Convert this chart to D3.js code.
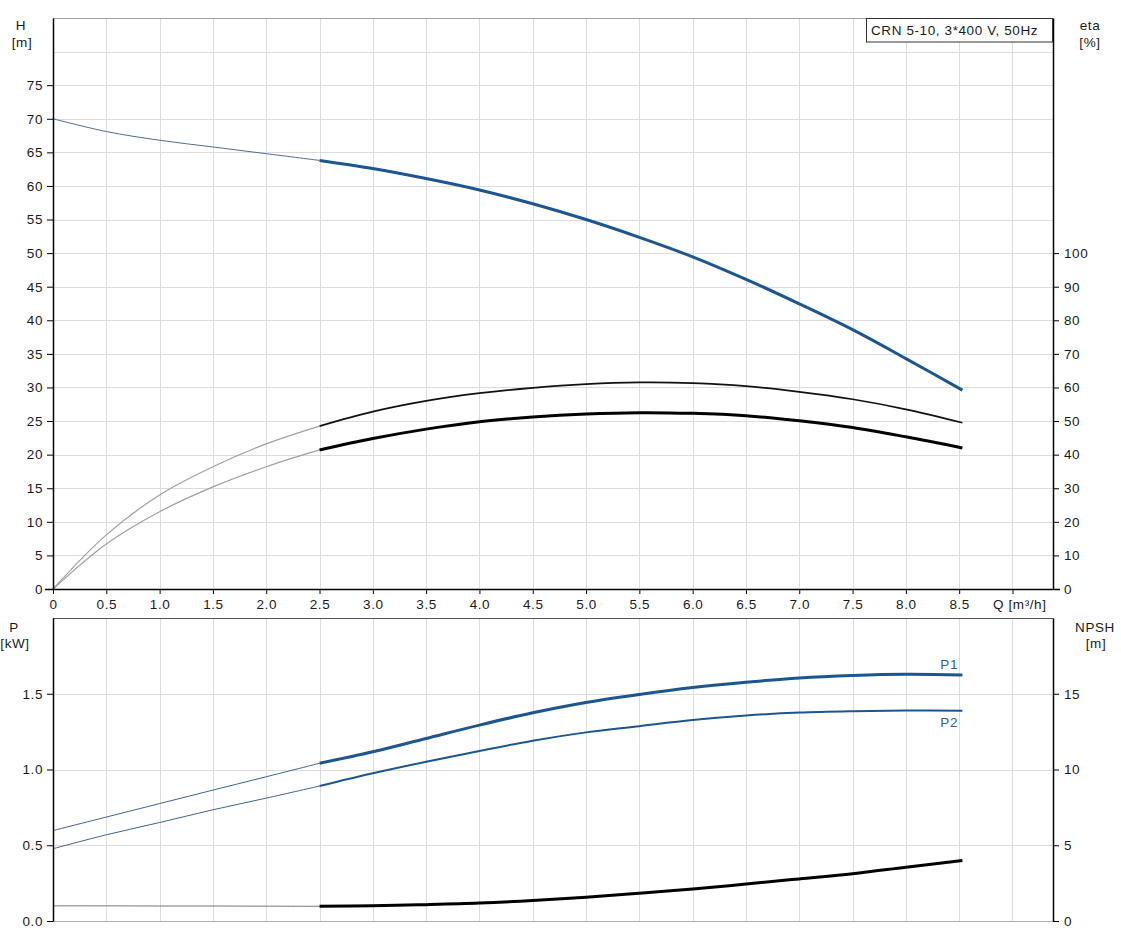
<!DOCTYPE html>
<html>
<head>
<meta charset="utf-8">
<script src="https://cdn.jsdelivr.net/npm/d3@7"></script>
<style>
  html, body { margin: 0; padding: 0; background: #fff; }
  svg { display: block; font-family: "Liberation Sans", Arial, sans-serif; }
</style>
</head>
<body>
<svg id="chart" width="1121" height="941"></svg>
<script>
// ---------- data ----------
const qValues      = [0, 0.5, 1.0, 1.5, 2.0, 2.5, 3.0, 3.5, 4.0, 4.5, 5.0, 5.5, 6.0, 6.5, 7.0, 7.5, 8.0, 8.53];
const headValues   = [70, 68.1, 66.8, 65.8, 64.8, 63.8, 62.6, 61.1, 59.4, 57.35, 55.0, 52.35, 49.45, 46.1, 42.45, 38.6, 34.3, 29.6];
const etaUpper     = [0, 16.1, 28.0, 36.4, 43.2, 48.5, 52.8, 56.0, 58.3, 59.9, 61.0, 61.5, 61.3, 60.4, 58.7, 56.5, 53.5, 49.5];
const etaLower     = [0, 13.4, 23.0, 30.4, 36.4, 41.4, 44.8, 47.6, 49.8, 51.2, 52.1, 52.5, 52.3, 51.6, 50.1, 48.1, 45.3, 42.0];
const p1Values     = [0.597, 0.686, 0.775, 0.864, 0.952, 1.041, 1.117, 1.205, 1.293, 1.374, 1.442, 1.495, 1.541, 1.576, 1.604, 1.620, 1.628, 1.624];
const p2Values     = [0.477, 0.569, 0.650, 0.734, 0.811, 0.891, 0.975, 1.051, 1.122, 1.190, 1.245, 1.286, 1.326, 1.356, 1.376, 1.385, 1.389, 1.387];
const npshValues   = [1.0, 1.0, 0.99, 0.99, 0.98, 0.97, 1.01, 1.08, 1.18, 1.35, 1.57, 1.83, 2.11, 2.44, 2.78, 3.12, 3.55, 4.0];
const opStartQ     = 2.5;

const qTickValues  = [0, 0.5, 1.0, 1.5, 2.0, 2.5, 3.0, 3.5, 4.0, 4.5, 5.0, 5.5, 6.0, 6.5, 7.0, 7.5, 8.0, 8.5, 9.0];
const qTickLabels  = ["0", "0.5", "1.0", "1.5", "2.0", "2.5", "3.0", "3.5", "4.0", "4.5", "5.0", "5.5", "6.0", "6.5", "7.0", "7.5", "8.0", "8.5", ""];
const hTicks       = [0, 5, 10, 15, 20, 25, 30, 35, 40, 45, 50, 55, 60, 65, 70, 75];
const hGrid        = [5, 10, 15, 20, 25, 30, 35, 40, 45, 50, 55, 60, 65, 70, 75, 80];
const etaTicks     = [0, 10, 20, 30, 40, 50, 60, 70, 80, 90, 100];
const pTicks       = [0, 0.5, 1.0, 1.5];
const pTickLabels  = ["0.0", "0.5", "1.0", "1.5"];
const npshTicks    = [0, 5, 10, 15];
const titleText    = "CRN 5-10, 3*400 V, 50Hz";

// ---------- layout ----------
const svg = d3.select("#chart");
const X0 = 53, X1 = 1053;
const topY0 = 589, topY1 = 18;
const botY0 = 921, botY1 = 618;
const BLUE = "#1b5690";
const GRID = "#dcdcdc";
const FS = 13.5, LS = 0.6;
const fontFam = '"Liberation Sans", Arial, sans-serif';

const x = d3.scaleLinear().domain([0, 9.38]).range([X0, X1]);
const yH = d3.scaleLinear().domain([0, 85]).range([topY0, topY1]);
const yEta = d3.scaleLinear().domain([0, 170]).range([topY0, topY1]);
const yP = d3.scaleLinear().domain([0, 2]).range([botY0, botY1]);
const yN = d3.scaleLinear().domain([0, 20]).range([botY0, botY1]);

const px = v => Math.round(v) + 0.5;

// ---------- grids ----------
function vGrid(yA, yB) {
  svg.append("g").selectAll("line").data(qTickValues.filter(d => d > 0)).join("line")
    .attr("x1", d => px(x(d))).attr("x2", d => px(x(d)))
    .attr("y1", yA).attr("y2", yB)
    .attr("stroke", GRID).attr("stroke-width", 1);
}
vGrid(topY1, topY0);
vGrid(botY1, botY0);

svg.append("g").selectAll("line").data(hGrid).join("line")
  .attr("x1", X0).attr("x2", X1)
  .attr("y1", d => px(yH(d))).attr("y2", d => px(yH(d)))
  .attr("stroke", GRID);
svg.append("g").selectAll("line").data([0.5, 1.0, 1.5]).join("line")
  .attr("x1", X0).attr("x2", X1)
  .attr("y1", d => px(yP(d))).attr("y2", d => px(yP(d)))
  .attr("stroke", GRID);

// frame lines
svg.append("line").attr("x1", X0).attr("x2", X1).attr("y1", px(topY1)).attr("y2", px(topY1)).attr("stroke", "#a0a0a0");
svg.append("line").attr("x1", X0).attr("x2", X1).attr("y1", px(botY1)).attr("y2", px(botY1)).attr("stroke", "#555");
svg.append("line").attr("x1", X0).attr("x2", X1).attr("y1", px(botY0)).attr("y2", px(botY0)).attr("stroke", "#b0b0b0");

// ---------- curves ----------
function pts(vals) { return qValues.map((q, i) => [q, vals[i]]); }
function drawSeries(vals, yScale, thinColor, thinW, thickColor, thickW) {
  const all = pts(vals);
  const line = d3.line().x(d => x(d[0])).y(d => yScale(d[1])).curve(d3.curveCatmullRom.alpha(0.5));
  svg.append("path").datum(all.filter(d => d[0] <= opStartQ))
    .attr("d", line).attr("fill", "none").attr("stroke", thinColor).attr("stroke-width", thinW);
  svg.append("path").datum(all.filter(d => d[0] >= opStartQ))
    .attr("d", line).attr("fill", "none").attr("stroke", thickColor).attr("stroke-width", thickW)
    .attr("stroke-linecap", "butt");
}
drawSeries(headValues, yH, "#4f6d98", 1, BLUE, 3);
drawSeries(etaUpper, yEta, "#a0a0a0", 1.2, "#111", 1.7);
drawSeries(etaLower, yEta, "#a0a0a0", 1.2, "#000", 3);
drawSeries(p1Values, yP, "#3d6495", 1, BLUE, 3);
drawSeries(p2Values, yP, "#3d6495", 1, BLUE, 2);
drawSeries(npshValues, yN, "#777", 1, "#000", 3);

// ---------- axes ----------
function styleAxis(g) {
  g.selectAll(".domain").attr("stroke", "#000").attr("stroke-width", 1.5);
  g.selectAll(".tick line").attr("stroke", "#000");
  g.selectAll(".tick text").attr("font-family", fontFam).attr("font-size", FS)
    .attr("letter-spacing", LS).attr("fill", "#1a1a1a");
}

svg.append("g").attr("transform", `translate(${X0},0)`)
  .call(d3.axisLeft(yH).tickValues(hTicks).tickSize(6).tickPadding(4).tickSizeOuter(0))
  .call(styleAxis);
svg.append("g").attr("transform", `translate(${X1},0)`)
  .call(d3.axisRight(yEta).tickValues(etaTicks).tickSize(6).tickPadding(5).tickSizeOuter(0))
  .call(styleAxis);
svg.append("g").attr("transform", `translate(0,${topY0})`)
  .call(d3.axisBottom(x).tickValues(qTickValues).tickFormat((d, i) => qTickLabels[i]).tickSize(5).tickPadding(5).tickSizeOuter(0))
  .call(styleAxis)
  .call(g => g.select(".domain").attr("d", `M${X0 - 8},0.5H${X1 + 7}`));

svg.append("g").attr("transform", `translate(${X0},0)`)
  .call(d3.axisLeft(yP).tickValues(pTicks).tickFormat((d, i) => pTickLabels[i]).tickSize(6).tickPadding(4).tickSizeOuter(0))
  .call(styleAxis);
svg.append("g").attr("transform", `translate(${X1},0)`)
  .call(d3.axisRight(yN).tickValues(npshTicks).tickSize(6).tickPadding(5).tickSizeOuter(0))
  .call(styleAxis);

// ---------- texts ----------
function txt(s, xx, yy, anchor, color) {
  svg.append("text").text(s).attr("x", xx).attr("y", yy)
    .attr("text-anchor", anchor || "middle")
    .attr("font-family", fontFam).attr("font-size", FS).attr("letter-spacing", LS)
    .attr("fill", color || "#1a1a1a");
}
txt("H", 21, 30);
txt("[m]", 22, 47);
txt("eta", 1090, 30);
txt("[%]", 1090, 47);
txt("Q [m³/h]", 993, 609, "start");
txt("P", 14, 632);
txt("[kW]", 15, 648);
txt("NPSH", 1095, 632);
txt("[m]", 1096, 648);
txt("P1", 958, 669, "end", "#2f5f9a");
txt("P2", 958, 727, "end", "#2f5f9a");

// title box
svg.append("rect").attr("x", 866.5).attr("y", 18.5).attr("width", 186).attr("height", 23.5)
  .attr("fill", "#fff").attr("stroke", "#333").attr("stroke-width", 1);
txt(titleText, 871, 35, "start");
</script>
</body>
</html>
